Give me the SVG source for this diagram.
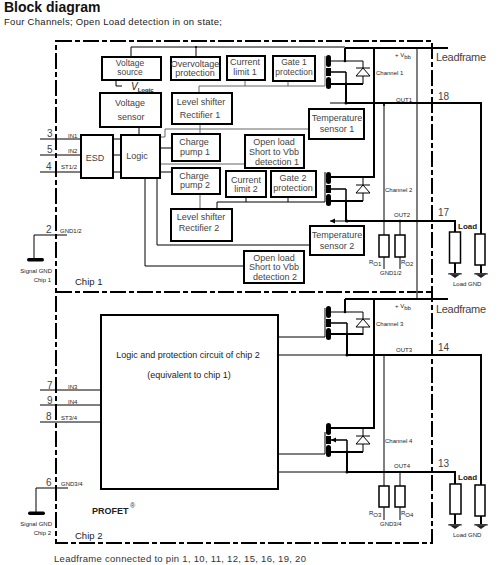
<svg xmlns="http://www.w3.org/2000/svg" width="504" height="565" viewBox="0 0 504 565">
<style>
text{font-family:"Liberation Sans",Arial,sans-serif;fill:#333}
.b rect{fill:#fff;stroke:#000;stroke-width:2}
.b text{font-size:9px;text-anchor:middle;fill:#444}
.s{font-size:6px;fill:#222}
.p{font-size:10px;fill:#444}
.l{font-size:11px;fill:#444}
.c{font-size:6px;fill:#222}
.t{fill:none;stroke:#000;stroke-width:1}
.g{fill:none;stroke:#666;stroke-width:1}
.g2{fill:none;stroke:#555;stroke-width:1.5}
.k{fill:none;stroke:#000;stroke-width:2}
.d{fill:none;stroke:#000;stroke-width:2;stroke-dasharray:16 3 5 3}
.fill{fill:#000;stroke:none}
.rl{fill:#fff;stroke:#000;stroke-width:1.5}
</style>
<defs>
<marker id="a" markerWidth="6" markerHeight="6" refX="5" refY="2.500" orient="auto" markerUnits="userSpaceOnUse"><path d="M0 0L5 2.500L0 5Z" fill="#000"/></marker>
<g id="diode"><path d="M0 0V23M-7 7H7" fill="none" stroke="#000" stroke-width="1"/><path d="M0 7L-7 15H7Z" fill="#fff" stroke="#000" stroke-width="1"/></g>
<g id="gnd"><path d="M-7 0H7L0 5Z" fill="#222"/><path d="M-7 1H7" stroke="#555" stroke-width="1"/></g>
<g id="fet"><rect x="-2.500" y="0" width="5" height="12" rx="2.500" fill="#000"/><rect x="-2.500" y="13" width="5" height="8" fill="#000"/><rect x="-2.500" y="22" width="5" height="12" rx="2.500" fill="#000"/></g>
</defs>
<g id="heading">
<text x="4" y="12" style="font-size:14px;font-weight:bold;fill:#111">Block diagram</text>
<text x="4" y="25" style="font-size:9.500px;fill:#222" textLength="218">Four Channels; Open Load detection in on state;</text>
</g>
<g id="connectors">
<path class="d" d="M56 41H432V543H56ZM56 292H432"/>
<path class="g2" d="M417 48V298"/>
<path class="k" d="M345 48H448M374 48V177H329M345 299H448M374 299V428H329M345 48V60M345 299V311"/>
<path class="t" d="M131 57V47H345M196 47V57"/>
<path class="t" d="M116 80V86H122"/>
<path class="g2" d="M329 61H363M329 312H363"/>
<path class="k" d="M329 84H363M329 201H363M329 334H363M329 452H363"/>
<path class="g" d="M199 93V86H325V56M245 81V86M288 81V86"/>
<path class="t" d="M217 209V202H325V172M246 197V202M288 197V202"/>
<path class="t" d="M278 337H325V308M278 454H325V432"/>
<path class="k" d="M346 84V103H481V234M346 201V221H455V232M347 334V355H481V485M347 452V472H455V484"/>
<path class="t" d="M346 72V84M346 189V201M347 323V334M347 440V452" style="stroke-width:1.500"/>
<path class="t" d="M346 72H331M346 189H331M347 323H331M347 440H331" style="stroke-width:1.500" marker-end="url(#a)"/>
<path class="t" d="M346 103H330M346 221H330" marker-end="url(#a)"/>
<path class="t" d="M278 355H347M278 472H347"/>
<path class="k" d="M481 265V275M455 263V273M481 516V526M455 514V524"/>
<path class="t" d="M384 103V269M400 221V269M384 355V520M400 472V520"/>
<path class="t" d="M40 139H81M40 155H81M40 172H81M113 139H121M113 155H121M113 172H121"/>
<path class="t" d="M67 235H34V258M68 488H36V512"/>
<path class="t" d="M40 390H101M40 405H101M40 422H101"/>
<path class="t" d="M139 127V135M160 148H172M160 172H172M157 178V245H310M145 178V266H244"/>
<path class="g" d="M160 137H165V129H309M160 164H245M200 124V134M200 194V209"/>
<rect class="fill" x="27" y="258" width="17" height="3.500" rx="1.700"/>
<rect class="fill" x="28" y="511.500" width="17" height="3.500" rx="1.700"/>
<g class="fill"><circle cx="196" cy="47" r="1"/><circle cx="345" cy="61" r="1.300"/><circle cx="346" cy="84" r="1.300"/><circle cx="346" cy="103" r="1.500"/><circle cx="384" cy="105" r="1"/><circle cx="346" cy="201" r="1.300"/><circle cx="347" cy="221" r="1.500"/><circle cx="400" cy="221" r="1.300"/><circle cx="345" cy="312" r="1.300"/><circle cx="347" cy="334" r="1.300"/><circle cx="347" cy="355" r="1.500"/><circle cx="384" cy="355" r="1"/><circle cx="347" cy="452" r="1.300"/><circle cx="347" cy="472" r="1.500"/><circle cx="400" cy="472" r="1"/></g>
</g>
<g id="fet1" transform="translate(328.500 55)"><use href="#fet"/></g>
<g id="fet2" transform="translate(328.500 172)"><use href="#fet"/></g>
<g id="fet3" transform="translate(328.500 306)"><use href="#fet"/></g>
<g id="fet4" transform="translate(328.500 423)"><use href="#fet"/></g>
<g id="diode1" transform="translate(363 61)"><use href="#diode"/></g>
<g id="diode2" transform="translate(363 178)"><use href="#diode"/></g>
<g id="diode3" transform="translate(363 312)"><use href="#diode"/></g>
<g id="diode4" transform="translate(363 429)"><use href="#diode"/></g>
<g id="voltage-source" class="b"><rect x="102" y="57" width="59" height="23"/><text x="130" y="66" style="font-size:8.500px">Voltage</text><text x="130" y="75" style="font-size:8.500px">source</text></g>
<g id="overvoltage" class="b"><rect x="171" y="57" width="49" height="23"/><text x="195" y="67">Overvoltage</text><text x="195" y="76">protection</text></g>
<g id="current-limit-1" class="b"><rect x="227" y="56" width="38" height="24"/><text x="245" y="65">Current</text><text x="245" y="75">limit 1</text></g>
<g id="gate-1" class="b"><rect x="273" y="56" width="42" height="25"/><text x="294" y="65" style="font-size:8.500px">Gate 1</text><text x="294" y="75" style="font-size:8.500px">protection</text></g>
<g id="voltage-sensor" class="b"><rect x="100" y="93" width="61" height="34"/><text x="130" y="106">Voltage</text><text x="131" y="120">sensor</text></g>
<g id="level-shifter-1" class="b"><rect x="172" y="93" width="60" height="31"/><text x="201" y="105">Level shifter</text><text x="200" y="118">Rectifier 1</text></g>
<g id="esd" class="b"><rect x="81" y="135" width="32" height="43"/><text x="95" y="161">ESD</text></g>
<g id="logic" class="b"><rect x="121" y="135" width="39" height="43"/><text x="137" y="159">Logic</text></g>
<g id="charge-pump-1" class="b"><rect x="172" y="134" width="48" height="27"/><text x="194" y="145">Charge</text><text x="195" y="155">pump 1</text></g>
<g id="charge-pump-2" class="b"><rect x="172" y="168" width="48" height="26"/><text x="194" y="179">Charge</text><text x="195" y="188">pump 2</text></g>
<g id="open-load-1" class="b"><rect x="245" y="135" width="59" height="33"/><text x="274" y="145">Open load</text><text x="274" y="155">Short to Vbb</text><text x="277" y="165">detection 1</text></g>
<g id="current-limit-2" class="b"><rect x="226" y="171" width="40" height="26"/><text x="246" y="183">Current</text><text x="246" y="192">limit 2</text></g>
<g id="gate-2" class="b"><rect x="271" y="171" width="45" height="26"/><text x="293" y="181">Gate 2</text><text x="293" y="191">protection</text></g>
<g id="level-shifter-2" class="b"><rect x="171" y="209" width="61" height="32"/><text x="201" y="220">Level shifter</text><text x="199" y="231">Rectifier 2</text></g>
<g id="temp-1" class="b"><rect x="309" y="109" width="55" height="30"/><text x="337" y="121">Temperature</text><text x="337" y="132">sensor 1</text></g>
<g id="temp-2" class="b"><rect x="310" y="226" width="54" height="29"/><text x="337" y="238">Temperature</text><text x="337" y="249">sensor 2</text></g>
<g id="open-load-2" class="b"><rect x="244" y="251" width="60" height="32"/><text x="274" y="261">Open load</text><text x="274" y="270">Short to Vbb</text><text x="275" y="280">detection 2</text></g>
<g id="chip2-logic"><rect x="101" y="315" width="177" height="174" fill="#fff" stroke="#000" stroke-width="2"/><text x="188" y="358" style="font-size:9px;text-anchor:middle;fill:#222">Logic and protection circuit of chip 2</text><text x="189" y="378" style="font-size:9px;text-anchor:middle;fill:#222">(equivalent to chip 1)</text></g>
<g id="resistors">
<rect class="rl" x="379" y="235" width="10" height="22"/><rect class="rl" x="395" y="235" width="10" height="22"/><rect class="rl" x="379" y="486" width="10" height="21"/><rect class="rl" x="395" y="486" width="10" height="21"/>
<rect class="rl" x="449.500" y="232" width="11" height="31"/><rect class="rl" x="475" y="234" width="10" height="31"/><rect class="rl" x="450" y="484" width="11" height="30"/><rect class="rl" x="475" y="485" width="10" height="31"/>
<use href="#gnd" x="455" y="273"/><use href="#gnd" x="481" y="273"/><use href="#gnd" x="455" y="524"/><use href="#gnd" x="481" y="524"/>
</g>
<g id="labels">
<text x="131" y="90" style="font-size:10px;font-style:italic;fill:#222">V<tspan dy="2" style="font-size:6px;font-style:normal;font-weight:bold">Logic</tspan></text>
<text x="395" y="57" class="c">+ V<tspan dy="2">bb</tspan></text><text x="395" y="308" class="c">+ V<tspan dy="2">bb</tspan></text>
<text x="436" y="61" class="l" textLength="50">Leadframe</text><text x="436" y="313" class="l" textLength="50">Leadframe</text>
<text x="376" y="75" class="c">Channel 1</text><text x="385" y="192" class="c">Channel 2</text><text x="376" y="326" class="c">Channel 3</text><text x="385" y="443" class="c">Channel 4</text>
<text x="396" y="102" class="c">OUT1</text><text x="394" y="217" class="c">OUT2</text><text x="396" y="352" class="c">OUT3</text><text x="394" y="468" class="c">OUT4</text>
<text x="438" y="100" class="p">18</text><text x="438" y="216" class="p">17</text><text x="438" y="351" class="p">14</text><text x="438" y="467" class="p">13</text>
<text x="458" y="229" style="font-size:8px;font-weight:bold;fill:#222">Load</text><text x="458" y="480" style="font-size:8px;font-weight:bold;fill:#222">Load</text>
<text x="453" y="286" class="c">Load GND</text><text x="453" y="537" class="c">Load GND</text>
<text x="369" y="264" class="c">R<tspan dy="2">O1</tspan></text><text x="401" y="264" class="c">R<tspan dy="2">O2</tspan></text><text x="369" y="515" class="c">R<tspan dy="2">O3</tspan></text><text x="401" y="515" class="c">R<tspan dy="2">O4</tspan></text>
<text x="380" y="275" class="c">GND1/2</text><text x="380" y="526" class="c">GND3/4</text>
<text x="47" y="137" class="p">3</text><text x="47" y="153" class="p">5</text><text x="46" y="170" class="p">4</text><text x="46" y="233" class="p">2</text>
<text x="47" y="389" class="p">7</text><text x="47" y="404" class="p">9</text><text x="46" y="420" class="p">8</text><text x="46" y="486" class="p">6</text>
<text x="68" y="138" class="s">IN1</text><text x="68" y="153" class="s">IN2</text><text x="61" y="169" class="s">ST1/2</text><text x="60" y="233" class="s">GND1/2</text>
<text x="68" y="389" class="s">IN3</text><text x="68" y="404" class="s">IN4</text><text x="61" y="420" class="s">ST3/4</text><text x="61" y="486" class="s">GND3/4</text>
<text x="52" y="273" class="s" text-anchor="end">Signal GND</text><text x="51" y="282" class="s" text-anchor="end">Chip 1</text>
<text x="52" y="526" class="s" text-anchor="end">Signal GND</text><text x="51" y="535" class="s" text-anchor="end">Chip 2</text>
<text x="75" y="285" style="font-size:9.500px;fill:#222">Chip 1</text><text x="75" y="539" style="font-size:9.500px;fill:#222">Chip 2</text>
<text x="92" y="514" style="font-size:9px;font-weight:bold;fill:#222">PROFET</text><text x="130" y="508" style="font-size:7px">®</text>
<text x="54" y="562" style="font-size:9.500px" textLength="252">Leadframe connected to pin 1, 10, 11, 12, 15, 16, 19, 20</text>
</g>
</svg>
